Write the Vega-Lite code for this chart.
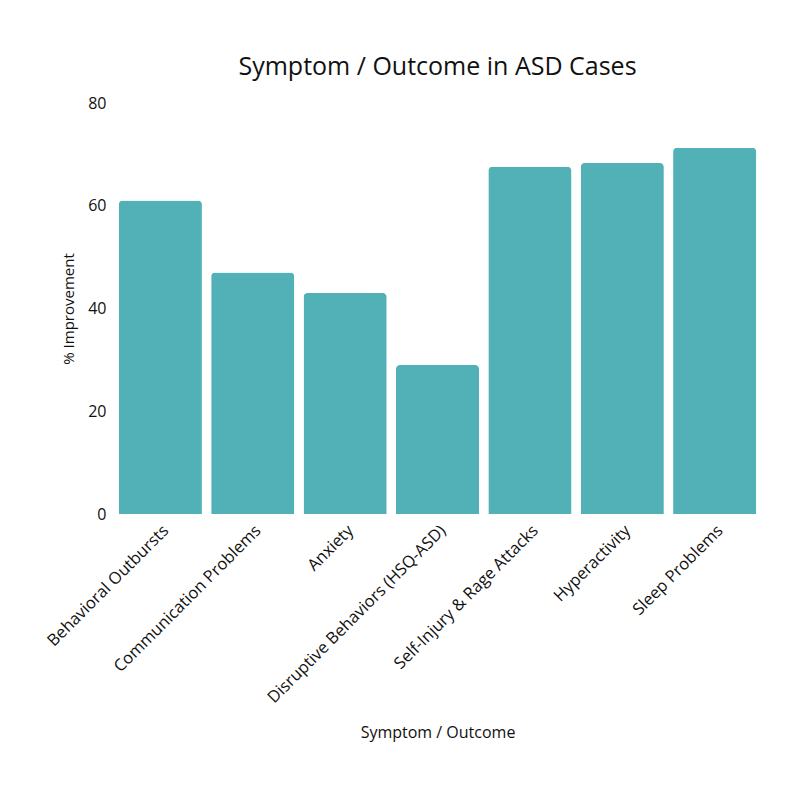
{
  "$schema": "https://vega.github.io/schema/vega-lite/v6.json",
  "width": 643,
  "height": 411,
  "autosize": "none",
  "padding": {"left": 116, "top": 103, "right": 41, "bottom": 286},
  "background": "white",
  "title": {"text": "Symptom / Outcome in ASD Cases", "font": "Open Sans", "fontSize": 25, "fontWeight": "normal", "color": "#111111", "offset": 15, "anchor": "middle"},
  "data": {"values": [
    {"symptom": "Behavioral Outbursts", "value": 61},
    {"symptom": "Communication Problems", "value": 47},
    {"symptom": "Anxiety", "value": 43},
    {"symptom": "Disruptive Behaviors (HSQ-ASD)", "value": 29},
    {"symptom": "Self-Injury & Rage Attacks", "value": 67.6},
    {"symptom": "Hyperactivity", "value": 68.3},
    {"symptom": "Sleep Problems", "value": 71.3}
  ]},
  "mark": {"type": "bar", "color": "#52B0B7", "cornerRadiusTopLeft": 4, "cornerRadiusTopRight": 4},
  "encoding": {
    "x": {"field": "symptom", "type": "nominal", "sort": null, "title": "Symptom / Outcome",
      "scale": {"paddingInner": 0.1, "paddingOuter": 0.03},
      "axis": {"labelAngle": -45, "labelFont": "Open Sans", "labelFontSize": 16.5, "labelLimit": 0, "labelColor": "#111111", "domain": false, "ticks": false, "labelPadding": 8, "titleFont": "Open Sans", "titleFontSize": 16, "titleFontWeight": "normal", "titleColor": "#111111", "titlePadding": 18}},
    "y": {"field": "value", "type": "quantitative", "title": "% Improvement",
      "scale": {"domain": [0, 80]},
      "axis": {"values": [0, 20, 40, 60, 80], "grid": false, "domain": false, "ticks": false, "labelFont": "Open Sans", "labelFontSize": 16, "labelColor": "#111111", "labelPadding": 10, "titleFont": "Open Sans", "titleFontSize": 15, "titleFontWeight": "normal", "titleColor": "#111111", "titlePadding": 11}}
  },
  "config": {"view": {"stroke": null}}
}
